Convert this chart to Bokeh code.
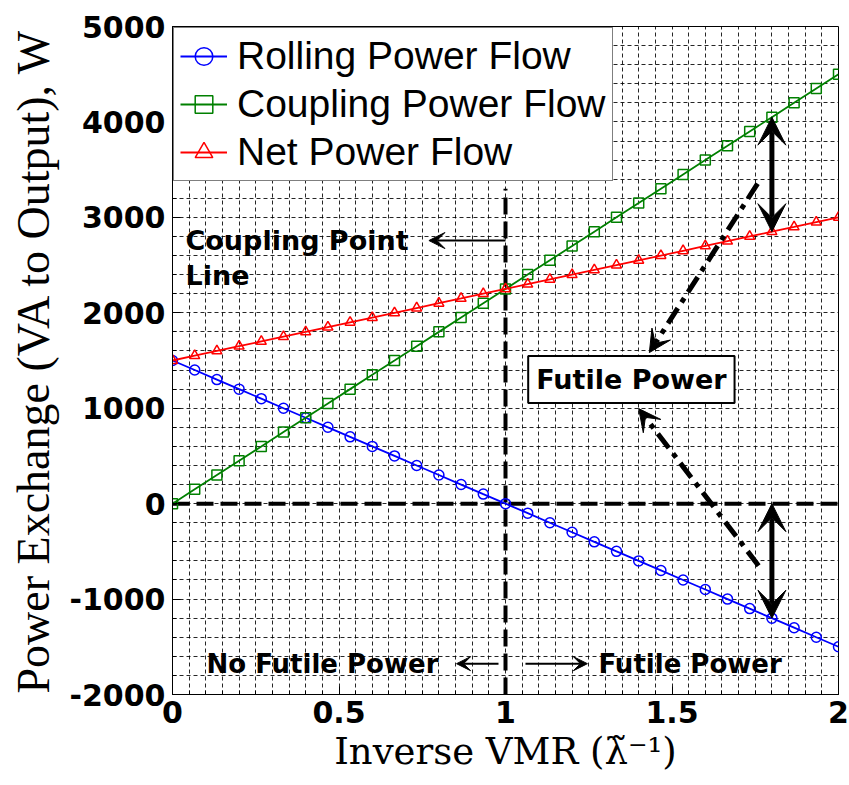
from bokeh.plotting import figure
from bokeh.models import (FixedTicker, Label, Arrow, VeeHead, Range1d,
                          NumeralTickFormatter)
from bokeh.embed import file_html
from bokeh.resources import INLINE

# ---------------- data ----------------
x_vals = [0, 0.0667, 0.1333, 0.2, 0.2667, 0.3333, 0.4, 0.4667, 0.5333, 0.6, 0.6667,
          0.7333, 0.8, 0.8667, 0.9333, 1.0, 1.0667, 1.1333, 1.2, 1.2667, 1.3333,
          1.4, 1.4667, 1.5333, 1.6, 1.6667, 1.7333, 1.8, 1.8667, 1.9333, 2.0]
rolling = [1500, 1400, 1300, 1200, 1100, 1000, 900, 800, 700, 600, 500, 400, 300, 200,
           100, 0, -100, -200, -300, -400, -500, -600, -700, -800, -900, -1000, -1100,
           -1200, -1300, -1400, -1500]
coupling = [0, 150, 300, 450, 600, 750, 900, 1050, 1200, 1350, 1500, 1650, 1800, 1950,
            2100, 2250, 2400, 2550, 2700, 2850, 3000, 3150, 3300, 3450, 3600, 3750, 3900,
            4050, 4200, 4350, 4500]
net = [1500, 1550, 1600, 1650, 1700, 1750, 1800, 1850, 1900, 1950, 2000, 2050, 2100,
       2150, 2200, 2250, 2300, 2350, 2400, 2450, 2500, 2550, 2600, 2650, 2700, 2750,
       2800, 2850, 2900, 2950, 3000]

series_names = ["Rolling Power Flow", "Coupling Power Flow", "Net Power Flow"]
series_colors = ["#0000ff", "#008000", "#ff0000"]
series_markers = ["circle", "square", "triangle"]

x_ticks = [0, 0.5, 1, 1.5, 2]
y_ticks = [-2000, -1000, 0, 1000, 2000, 3000, 4000, 5000]
x_grid = [round(i * 0.05, 2) for i in range(41)]
y_grid = [-2000 + 200 * i for i in range(36)]

# annotation anchors (data coordinates)
coupling_x = 1.0
coupling_line_top = 3300
arrow_idx = 27  # x = 1.8

BOLD = "DejaVu Sans"
SERIF = "Liberation Serif"

p = figure(width=849, height=785, x_range=Range1d(0, 2), y_range=Range1d(-2000, 5000),
           output_backend="svg", toolbar_location=None,
           min_border_left=172, min_border_right=11, min_border_top=26,
           min_border_bottom=91)
p.background_fill_color = "white"
p.border_fill_color = "white"
p.outline_line_color = "black"
p.outline_line_width = 1

# grid
for g, t in ((p.xgrid, x_grid), (p.ygrid, y_grid)):
    g.ticker = FixedTicker(ticks=t)
    g.grid_line_color = "black"
    g.grid_line_dash = "4 3"
    g.grid_line_width = 1
    g.grid_line_alpha = 0.85

# axes
p.xaxis.ticker = FixedTicker(ticks=x_ticks, minor_ticks=x_grid)
p.yaxis.ticker = FixedTicker(ticks=y_ticks, minor_ticks=y_grid)
p.xaxis.formatter = NumeralTickFormatter(format="0.[0]")
p.yaxis.formatter = NumeralTickFormatter(format="0")
for ax in (p.xaxis[0], p.yaxis[0]):
    ax.major_label_text_font = BOLD
    ax.major_label_text_font_style = "bold"
    ax.major_label_text_font_size = "30px"
    ax.major_label_text_color = "black"
    ax.axis_line_color = "black"
    ax.major_tick_in = 8
    ax.major_tick_out = 0
    ax.minor_tick_in = 4
    ax.minor_tick_out = 0
    ax.axis_label_text_font_style = "normal"
    ax.axis_label_text_color = "black"
p.xaxis.axis_label = "Inverse VMR (λ\u0303\u207b\u00b9)"
p.xaxis.axis_label_text_font = "DejaVu Serif"
p.xaxis.axis_label_text_font_size = "37px"
p.xaxis.axis_label_standoff = 4
p.xaxis.major_label_standoff = 6
p.yaxis.axis_label = "Power Exchange (VA to Output), W"
p.yaxis.axis_label_text_font = SERIF
p.yaxis.axis_label_text_font_size = "46px"
p.yaxis.axis_label_standoff = 8
p.yaxis.major_label_standoff = 7

# reference lines
p.line([0, 2], [0, 0], line_color="black", line_width=4, line_dash="17 7")
p.line([coupling_x, coupling_x], [-2000, coupling_line_top], line_color="black",
       line_width=4, line_dash="17 7")

# series
for ys, name, col, mk in zip((rolling, coupling, net), series_names, series_colors,
                             series_markers):
    p.line(x_vals, ys, line_color=col, line_width=1.8, legend_label=name)
    p.scatter(x_vals, ys, marker=mk, size=10, fill_color=None, line_color=col,
              line_width=1.5, legend_label=name)

# legend
lg = p.legend[0]
lg.location = "top_left"
lg.margin = 1
lg.padding = 6
lg.spacing = 4
lg.label_text_font = "Liberation Sans"
lg.label_text_font_size = "39px"
lg.label_text_color = "black"
lg.label_height = 44
lg.glyph_height = 44
lg.glyph_width = 47
lg.label_standoff = 10
lg.border_line_color = "black"
lg.border_line_width = 1
lg.background_fill_color = "white"
lg.background_fill_alpha = 1

# annotations
def bold_label(x, y, text, size="27px", align="left", **kw):
    lab = Label(x=x, y=y, text=text, text_font=BOLD, text_font_style="bold",
                text_font_size=size, text_align=align, text_baseline="middle",
                text_color="black", **kw)
    p.add_layout(lab)
    return lab

bold_label(0.039, 2757, "Coupling Point")
bold_label(0.039, 2390, "Line")
p.add_layout(Arrow(x_start=coupling_x, y_start=2757, x_end=0.77, y_end=2757,
                   line_width=2, line_color="black",
                   end=VeeHead(size=16, fill_color="black", line_color="black")))

bold_label(1.378, 1300, "Futile Power", size="27px", align="center",
           background_fill_color="white", border_line_color="black",
           border_line_width=2, padding=8)

bold_label(0.102, -1677, "No Futile Power", size="26px")
bold_label(1.279, -1677, "Futile Power", size="26px")
p.add_layout(Arrow(x_start=0.979, y_start=-1677, x_end=0.853, y_end=-1677,
                   line_width=2, line_color="black",
                   end=VeeHead(size=14, fill_color="black", line_color="black")))
p.add_layout(Arrow(x_start=1.06, y_start=-1677, x_end=1.246, y_end=-1677,
                   line_width=2, line_color="black",
                   end=VeeHead(size=14, fill_color="black", line_color="black")))

# dash-dot arrows pointing at the boxed label
p.add_layout(Arrow(x_start=1.757, y_start=3354, x_end=1.432, y_end=1583,
                   line_width=5, line_color="black", line_dash="18 7 5 7",
                   end=VeeHead(size=22, fill_color="black", line_color="black")))
p.add_layout(Arrow(x_start=1.76, y_start=-650, x_end=1.40, y_end=996,
                   line_width=5, line_color="black", line_dash="18 7 5 7",
                   end=VeeHead(size=22, fill_color="black", line_color="black")))

# double-headed arrows at x = 1.8
xa = x_vals[arrow_idx]
p.add_layout(Arrow(x_start=xa, y_start=net[arrow_idx], x_end=xa, y_end=coupling[arrow_idx],
                   line_width=5, line_color="black",
                   start=VeeHead(size=28, fill_color="black", line_color="black"),
                   end=VeeHead(size=28, fill_color="black", line_color="black")))
p.add_layout(Arrow(x_start=xa, y_start=rolling[arrow_idx], x_end=xa, y_end=0,
                   line_width=5, line_color="black",
                   start=VeeHead(size=28, fill_color="black", line_color="black"),
                   end=VeeHead(size=28, fill_color="black", line_color="black")))

open("out.html", "w").write(file_html(p, INLINE))
